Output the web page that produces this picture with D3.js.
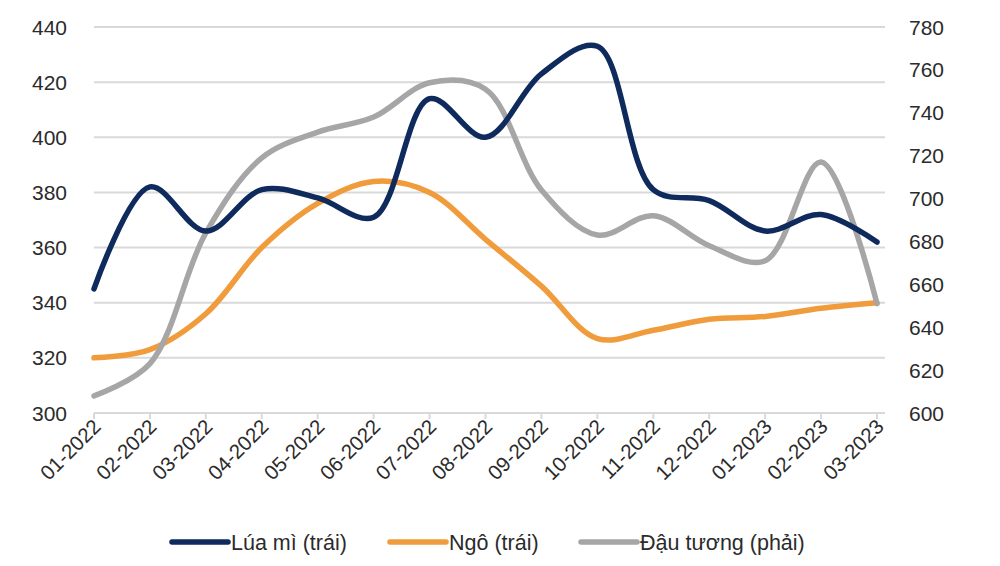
<!DOCTYPE html>
<html><head><meta charset="utf-8">
<script src="https://cdn.jsdelivr.net/npm/d3@7"></script>
<style>
body{margin:0;background:#fff;}
text{font-family:"Liberation Sans",Arial,sans-serif;fill:#2b2b2b;}
</style></head>
<body><svg id="c" width="1000" height="566"></svg>
<script>
const categories = ["01-2022","02-2022","03-2022","04-2022","05-2022","06-2022","07-2022","08-2022","09-2022","10-2022","11-2022","12-2022","01-2023","02-2023","03-2023"];
const wheat   = [345, 382, 366, 381, 378, 371, 414, 400, 423, 433, 381, 377, 366, 372, 362];
const corn    = [320, 323, 336, 360, 376, 384, 380, 363, 346, 327, 330, 334, 335, 338, 340];
const soybean = [608, 623, 684, 719, 731, 738, 754, 751, 704, 683, 692, 678, 671, 717, 651];
const leftTicks  = [300, 320, 340, 360, 380, 400, 420, 440];
const rightTicks = [600, 620, 640, 660, 680, 700, 720, 740, 760, 780];
const seriesNames = ["Lúa mì (trái)", "Ngô (trái)", "Đậu tương (phải)"];
const seriesColors = ["#0f2a5c", "#f09c3c", "#a6a6a6"];

const svg = d3.select("#c");
const x = d3.scalePoint().domain(categories).range([94, 877]);
const yL = d3.scaleLinear().domain([300, 440]).range([413, 27]);
const yR = d3.scaleLinear().domain([600, 780]).range([413, 27]);

svg.append("g").selectAll("line").data(leftTicks).join("line")
  .attr("x1", 94).attr("x2", 885)
  .attr("y1", d => yL(d)).attr("y2", d => yL(d))
  .attr("stroke", "#d9d9d9").attr("stroke-width", 2);

svg.append("g").selectAll("line").data(categories).join("line")
  .attr("x1", d => x(d)).attr("x2", d => x(d))
  .attr("y1", 413).attr("y2", 419)
  .attr("stroke", "#d9d9d9").attr("stroke-width", 2);

svg.append("g").selectAll("text").data(leftTicks).join("text")
  .attr("x", 67).attr("y", d => yL(d) + 7.5)
  .attr("text-anchor", "end").style("font-size", "21px")
  .text(d => d);

svg.append("g").selectAll("text").data(rightTicks).join("text")
  .attr("x", 909).attr("y", d => yR(d) + 7.5)
  .attr("text-anchor", "start").style("font-size", "21px")
  .text(d => d);

svg.append("g").selectAll("text").data(categories).join("text")
  .attr("transform", d => `translate(${x(d) + 8},${428}) rotate(-45)`)
  .attr("text-anchor", "end").style("font-size", "20.5px")
  .text(d => d);

const line = (scale, vals) => d3.line()
  .x((d, i) => x(categories[i]))
  .y(d => scale(d))
  .curve(d3.curveCatmullRom.alpha(0.5))(vals);

const series = [
  {vals: wheat, scale: yL},
  {vals: corn, scale: yL},
  {vals: soybean, scale: yR}
];
const order = [1, 2, 0];
order.forEach(i => {
  svg.append("path")
    .attr("d", line(series[i].scale, series[i].vals))
    .attr("fill", "none")
    .attr("stroke", seriesColors[i])
    .attr("stroke-width", 5.5)
    .attr("stroke-linecap", "round")
    .attr("stroke-linejoin", "round");
});

const legendX = [172, 390, 581];
const lg = svg.append("g");
seriesNames.forEach((n, i) => {
  lg.append("line")
    .attr("x1", legendX[i]).attr("x2", legendX[i] + 56)
    .attr("y1", 542).attr("y2", 542)
    .attr("stroke", seriesColors[i]).attr("stroke-width", 5.5)
    .attr("stroke-linecap", "round");
  lg.append("text")
    .attr("x", legendX[i] + 59).attr("y", 550)
    .style("font-size", "21.5px")
    .text(n);
});
</script></body></html>
